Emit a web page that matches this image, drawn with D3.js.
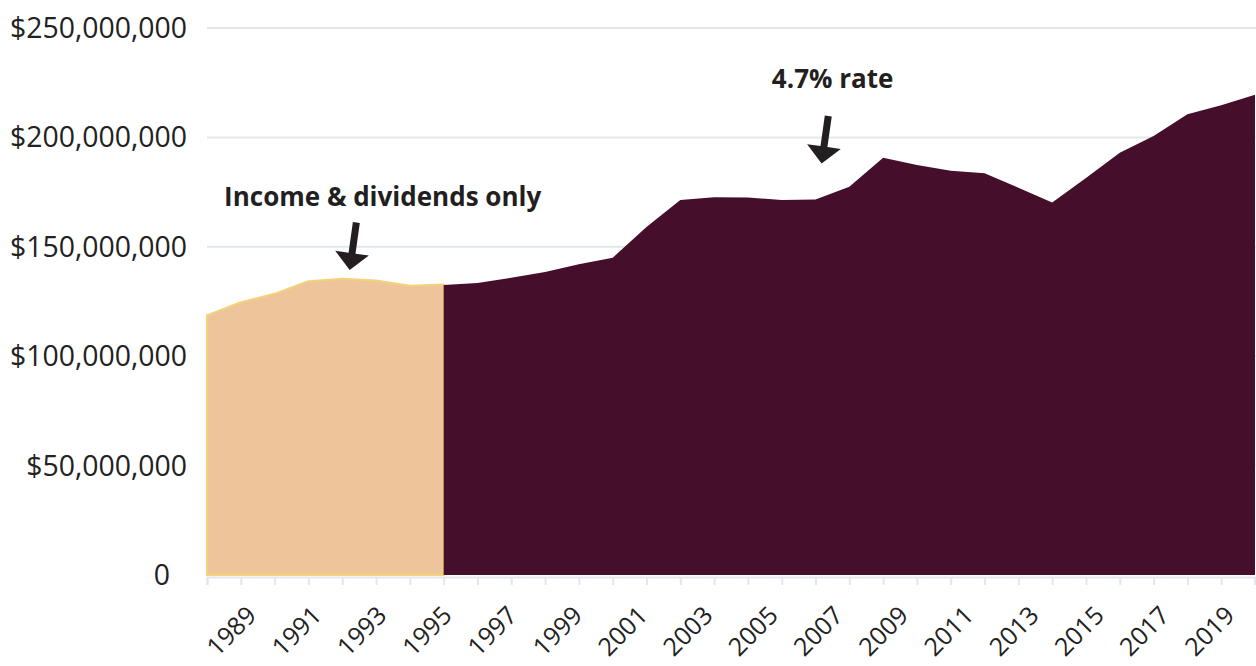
<!DOCTYPE html>
<html>
<head>
<meta charset="utf-8">
<script src="https://cdn.jsdelivr.net/npm/d3@7"></script>
<style>
  html, body { margin: 0; padding: 0; background: #fff; }
  svg { display: block; font-family: "Open Sans", sans-serif; }
</style>
</head>
<body>
<div class="vis-area"></div>
<script>
// values in millions of dollars
const incomeYears = [1988, 1989, 1990, 1991, 1992, 1993, 1994, 1995];
const incomeValues = [118.6, 124.7, 128.5, 134.3, 135.4, 134.6, 132.2, 132.8];

const rateYears = [1995, 1996, 1997, 1998, 1999, 2000, 2001, 2002, 2003, 2004,
  2005, 2006, 2007, 2008, 2009, 2010, 2011, 2012, 2013, 2014,
  2015, 2016, 2017, 2018, 2019];
const rateValues = [132.5, 133.5, 135.8, 138.5, 142.0, 145.0, 159.0, 171.4, 172.6, 172.5,
  171.4, 171.6, 177.4, 190.7, 187.4, 184.8, 183.6, 177.0, 170.3, 181.4,
  193.0, 200.6, 210.6, 214.7, 219.5];

const yTicks = [0, 50, 100, 150, 200, 250];
const xLabelYears = d3.range(1989, 2020, 2);

const annotations = [
  { text: "Income & dividends only", year: 1992.22, value: 139.4, dx: 33, dy: -64 },
  { text: "4.7% rate", year: 2006.18, value: 188.1, dx: 11, dy: -75 }
];

const W = 1256, H = 666;
const margin = { top: 28, right: 1, bottom: 91, left: 207 };

const svg = d3.select(".vis-area")
  .append("svg")
  .attr("width", W)
  .attr("height", H);

const x = d3.scaleLinear()
  .domain([1988, 2019])
  .range([margin.left, W - margin.right]);

const y = d3.scaleLinear()
  .domain([0, 250])
  .range([H - margin.bottom, margin.top]);

// gridlines
svg.append("g")
  .selectAll("line")
  .data(yTicks.filter(d => d > 0))
  .enter()
  .append("line")
  .attr("x1", x(1988))
  .attr("x2", W)
  .attr("y1", d => y(d))
  .attr("y2", d => y(d))
  .attr("stroke", "#e3e7ec")
  .attr("stroke-width", 2);

// y labels
svg.append("g")
  .selectAll("text")
  .data(yTicks)
  .enter()
  .append("text")
  .attr("x", d => d === 0 ? 170 : 187)
  .attr("y", d => y(d))
  .attr("dy", "0.35em")
  .attr("text-anchor", "end")
  .style("font-size", "28.4px")
  .style("fill", "#222")
  .text(d => d === 0 ? "0" : "$" + d3.format(",")(d * 1e6));

// x axis line + ticks
const xAxis = svg.append("g")
  .attr("transform", "translate(0," + (y(0) + 2) + ")")
  .call(d3.axisBottom(x).tickValues(d3.range(1988, 2020)).tickSize(8).tickFormat(""));
xAxis.select(".domain").attr("stroke", "#e3e7ec").attr("stroke-width", 2);
xAxis.selectAll(".tick line").attr("stroke", "#e3e7ec").attr("stroke-width", 2);

// x labels (odd years)
const xLabel = d3.scaleLinear()
  .domain([1989, 2019])
  .range([x(1989) + 17, x(2019) - 19]);

svg.append("g")
  .selectAll("text")
  .data(xLabelYears)
  .enter()
  .append("text")
  .attr("transform", d => "translate(" + xLabel(d) + "," + 617 + ") rotate(-45)")
  .attr("text-anchor", "end")
  .style("font-size", "25px")
  .style("fill", "#222")
  .text(d => d);

// areas
const area = d3.area()
  .x(d => x(d[0]))
  .y0(y(0))
  .y1(d => y(d[1]));

svg.append("path")
  .datum(d3.zip(incomeYears, incomeValues))
  .attr("d", area)
  .attr("fill", "#eec49b")
  .attr("stroke", "#f3d27c")
  .attr("stroke-width", 2)
  .attr("stroke-linejoin", "round");

svg.append("path")
  .datum(d3.zip(rateYears, rateValues))
  .attr("d", area)
  .attr("fill", "#450e2b");

// annotations: arrow pointing down to (year, value), bold label above
annotations.forEach(function (a) {
  const tx = x(a.year), ty = y(a.value);
  const g = svg.append("g").attr("transform", "translate(" + tx + "," + ty + ")");
  g.append("path")
    .attr("transform", "rotate(8)")
    .attr("d", "M0,0 L-17,-17 L-3.5,-17 L-3.5,-48 L3.5,-48 L3.5,-17 L17,-17 Z")
    .attr("fill", "#231f20");
  g.append("text")
    .attr("x", a.dx)
    .attr("y", a.dy)
    .attr("text-anchor", "middle")
    .style("font-size", "26px")
    .style("font-weight", "bold")
    .style("fill", "#231f20")
    .text(a.text);
});
</script>
</body>
</html>
